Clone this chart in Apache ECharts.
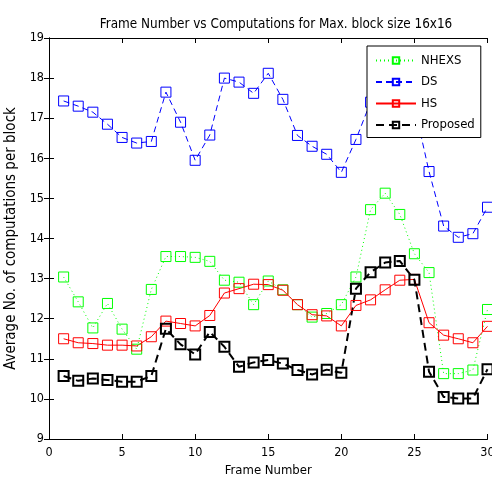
<!DOCTYPE html>
<html>
<head>
<meta charset="utf-8">
<script src="https://cdn.jsdelivr.net/npm/echarts@6/dist/echarts.min.js"></script>
<style>
html,body{margin:0;padding:0;background:#fff;}
#c{width:492px;height:477px;}
</style>
</head>
<body>
<div id="c"></div>
<script>
var frames = [1,2,3,4,5,6,7,8,9,10,11,12,13,14,15,16,17,18,19,20,21,22,23,24,25,26,27,28,29,30];
var nhexs = [13.04,12.42,11.77,12.38,11.74,11.24,12.73,13.55,13.55,13.53,13.43,12.96,12.91,12.35,12.94,12.72,12.35,12.04,12.13,12.35,13.04,14.72,15.13,14.60,13.62,13.15,10.63,10.63,10.72,12.23];
var ds = [17.43,17.30,17.15,16.85,16.52,16.38,16.42,17.65,16.90,15.95,16.58,18.00,17.90,17.62,18.12,17.47,16.57,16.30,16.10,15.65,16.47,17.40,17.80,17.60,17.30,15.67,14.31,14.03,14.12,14.78];
var hs = [11.50,11.40,11.38,11.34,11.34,11.32,11.55,11.94,11.88,11.82,12.08,12.64,12.75,12.86,12.85,12.71,12.35,12.10,12.07,11.82,12.33,12.47,12.72,12.96,12.98,11.90,11.59,11.50,11.40,11.81];
var proposed = [10.57,10.45,10.51,10.47,10.43,10.43,10.57,11.75,11.36,11.11,11.67,11.30,10.80,10.91,10.97,10.88,10.72,10.61,10.73,10.65,12.75,13.16,13.40,13.44,12.97,10.68,10.05,10.01,10.01,10.74];
var seriesNames = ['NHEXS','DS','HS','Proposed'];
var titleText = 'Frame Number vs Computations for Max. block size 16x16';
var xName = 'Frame Number';
var yName = 'Average No. of computations per block';

function pairs(vals){ return frames.map(function(f,i){ return [f, vals[i]]; }); }

var font = '"DejaVu Sans Condensed", "Liberation Sans", Arial, sans-serif';
var chart = echarts.init(document.getElementById('c'), null, {renderer:'canvas'});

function mk(name, vals, color, type, width, bw){
  return {
    name: name, type: 'line', data: pairs(vals),
    symbol: 'rect', symbolSize: 10,
    lineStyle: {color: color, width: width, type: type},
    itemStyle: {color: 'rgba(255,255,255,0)', borderColor: color, borderWidth: bw},
    emphasis: {disabled: true},
    animation: false, z: 3
  };
}

var axisLineStyle = {lineStyle:{color:'#000', width:1}};
chart.setOption({
  backgroundColor: '#fff',
  animation: false,
  title: {
    text: titleText, left: 271, top: 13, textAlign: 'center',
    textStyle: {fontFamily: font, fontSize: 13.4, fontWeight: 'normal', color: '#000'}
  },
  legend: {
    orient: 'vertical', left: 367, top: 46,
    data: seriesNames,
    itemWidth: 40, itemHeight: 8, itemGap: 8.5,
    padding: [8, 6, 6, 8],
    backgroundColor: '#fff', borderColor: '#000', borderWidth: 1, borderRadius: 0,
    textStyle: {fontFamily: font, fontSize: 13, color: '#000', lineHeight: 13},
    selectedMode: false
  },
  grid: {left: 49, right: 4.5, top: 38, bottom: 38, containLabel: false, outerBoundsMode: 'none'},
  xAxis: [{
    type: 'value', min: 0, max: 30, interval: 5, position: 'bottom',
    name: xName, nameLocation: 'middle', nameGap: 24,
    nameTextStyle: {fontFamily: font, fontSize: 13, color: '#000'},
    axisLine: axisLineStyle, axisTick: {inside: true, length: 5, lineStyle:{color:'#000'}},
    axisLabel: {fontFamily: font, fontSize: 12.5, color: '#000', margin: 7},
    splitLine: {show: false}
  },{
    type: 'value', min: 0, max: 30, interval: 5, position: 'top',
    axisLine: axisLineStyle, axisTick: {inside: true, length: 5, lineStyle:{color:'#000'}},
    axisLabel: {show: false}, splitLine: {show: false}
  }],
  yAxis: [{
    type: 'value', min: 9, max: 19, interval: 1, position: 'left',
    name: yName, nameLocation: 'middle', nameGap: 28,
    nameTextStyle: {fontFamily: font, fontSize: 15, color: '#000'},
    axisLine: {show: true, lineStyle:{color:'#000', width:1}}, axisTick: {show: true, inside: true, length: 5, lineStyle:{color:'#000'}},
    axisLabel: {fontFamily: font, fontSize: 12.5, color: '#000', margin: 5},
    splitLine: {show: false}
  },{
    type: 'value', min: 9, max: 19, interval: 1, position: 'right',
    axisLine: {show: true, lineStyle:{color:'#000', width:1}}, axisTick: {show: true, inside: true, length: 5, lineStyle:{color:'#000'}},
    axisLabel: {show: false}, splitLine: {show: false}
  }],
  series: [
    mk(seriesNames[0], nhexs, '#00ff00', [1,3], 1, 1),
    mk(seriesNames[1], ds, '#0000ff', [6,4], 1, 1),
    mk(seriesNames[2], hs, '#ff0000', 'solid', 1, 1),
    mk(seriesNames[3], proposed, '#000000', [8,5], 2, 2)
  ]
});
</script>
</body>
</html>
